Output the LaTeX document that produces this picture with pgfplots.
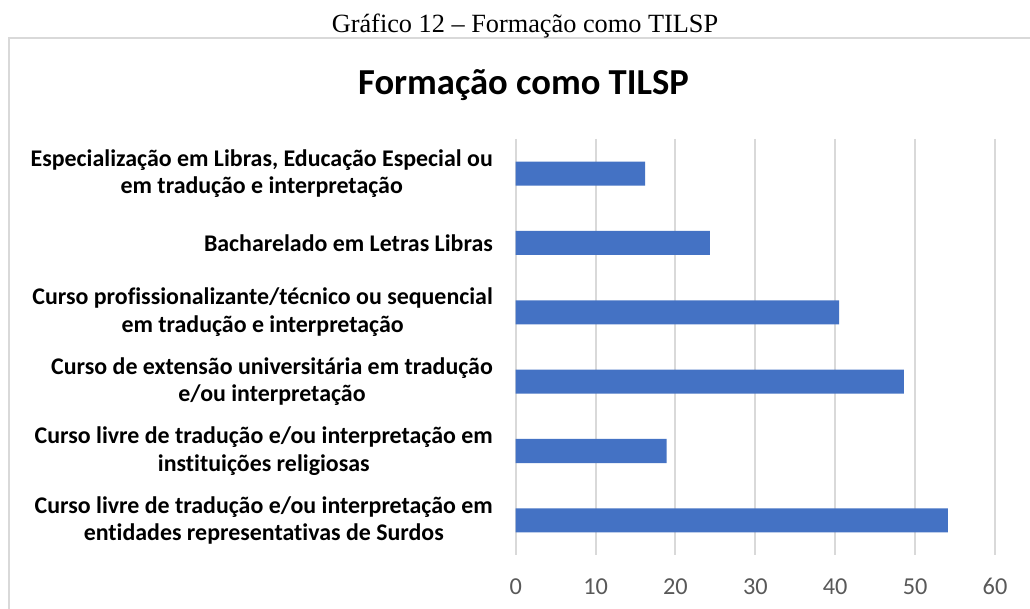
\documentclass[border=0pt]{standalone}
\usepackage{fontspec}
\usepackage{pgfplots}
\pgfplotsset{compat=1.18}
\setmainfont{Carlito}[Ligatures=NoCommon]
\newfontfamily\timesf{Liberation Serif}
\definecolor{barblue}{HTML}{4472C4}
\definecolor{gridgray}{HTML}{D9D9D9}
\definecolor{tickgray}{HTML}{595959}
\begin{document}
\begin{tikzpicture}[x=1pt,y=1pt]
\useasboundingbox (0,0) rectangle (1030,609);
\fill[white] (0,0) rectangle (1030,609);
\draw[gridgray, line width=2pt] (9,-5) -- (9,571) -- (1035,571);
\node[anchor=base, inner sep=0pt] at (525,576.7) {\timesf\fontsize{26.3}{30}\selectfont Gráfico 12 – Formação como TILSP};
\node[anchor=base, inner sep=0pt] at (523.5,514) {\bfseries\fontsize{36.6}{42}\selectfont Formação como TILSP};
\begin{axis}[
  at={(515.7pt,54pt)}, anchor=south west,
  scale only axis, width=479.3pt, height=416pt,
  xbar, bar width=24pt,
  xmin=0, xmax=60, xtick={0,10,...,60},
  ymin=-0.5, ymax=5.5, y dir=reverse,
  ytick={0,...,5},
  yticklabels={{Especialização em Libras, Educação Especial ou\\em tradução e interpretação},
    {Bacharelado em Letras Libras},
    {Curso profissionalizante/técnico ou sequencial\\em tradução e interpretação},
    {Curso de extensão universitária em tradução\\e/ou interpretação},
    {Curso livre de tradução e/ou interpretação em\\instituições religiosas},
    {Curso livre de tradução e/ou interpretação em\\entidades representativas de Surdos}},
  yticklabel style={align=center, font=\bfseries\fontsize{23.9}{27.5}\selectfont, inner sep=0pt, xshift=-22.7pt, anchor=east},
  xticklabel style={font=\fontsize{24.3}{28}\selectfont, text=tickgray, inner sep=0pt, yshift=-23.3pt, anchor=north},
  /pgf/number format/assume math mode=true,
  xmajorgrids, major grid style={draw=gridgray, line width=2pt},
  axis line style={draw=none}, major tick length=0pt, tick style={draw=none},
  clip=false,
]
\addplot[fill=barblue, draw=none] coordinates {(16.2,0) (24.3,1) (40.5,2) (48.6,3) (18.9,4) (54.1,5)};
\end{axis}
\end{tikzpicture}
\end{document}
